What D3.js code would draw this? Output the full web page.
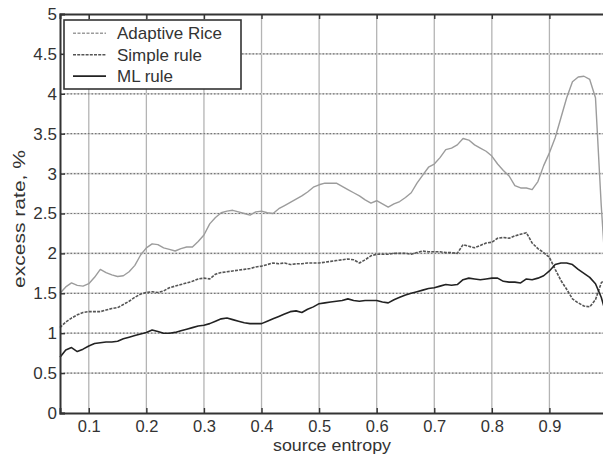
<!DOCTYPE html>
<html><head><meta charset="utf-8">
<script src="https://cdn.jsdelivr.net/npm/d3@7/dist/d3.min.js"></script>
<style>html,body{margin:0;padding:0;background:#fff;}svg{display:block;font-family:"Liberation Sans",Arial,sans-serif;}</style>
</head><body>
<svg id="c" width="603" height="455"></svg>
<script>
const entropy = [0.05,0.06,0.07,0.08,0.09,0.10,0.11,0.12,0.13,0.14,0.15,0.16,0.17,0.18,0.19,0.20,0.21,0.22,0.23,0.24,0.25,0.26,0.27,0.28,0.29,0.30,0.31,0.32,0.33,0.34,0.35,0.36,0.37,0.38,0.39,0.40,0.41,0.42,0.43,0.44,0.45,0.46,0.47,0.48,0.49,0.50,0.51,0.52,0.53,0.54,0.55,0.56,0.57,0.58,0.59,0.60,0.61,0.62,0.63,0.64,0.65,0.66,0.67,0.68,0.69,0.70,0.71,0.72,0.73,0.74,0.75,0.76,0.77,0.78,0.79,0.80,0.81,0.82,0.83,0.84,0.85,0.86,0.87,0.88,0.89,0.90,0.91,0.92,0.93,0.94,0.95,0.96,0.97,0.98,0.99,1.00];
const adaptiveRice = [1.50,1.58,1.63,1.60,1.59,1.62,1.70,1.80,1.76,1.73,1.71,1.72,1.77,1.85,1.98,2.07,2.12,2.11,2.07,2.05,2.03,2.06,2.08,2.08,2.15,2.23,2.37,2.45,2.51,2.53,2.54,2.52,2.50,2.48,2.52,2.53,2.51,2.50,2.56,2.60,2.64,2.68,2.72,2.77,2.83,2.86,2.88,2.88,2.88,2.84,2.80,2.76,2.72,2.67,2.63,2.66,2.62,2.58,2.62,2.65,2.70,2.76,2.88,2.98,3.08,3.12,3.20,3.30,3.32,3.36,3.44,3.42,3.36,3.32,3.28,3.22,3.12,3.04,2.97,2.85,2.82,2.82,2.80,2.90,3.10,3.26,3.45,3.70,3.95,4.15,4.21,4.22,4.18,3.95,2.60,1.50];
const simpleRule = [1.07,1.14,1.19,1.23,1.26,1.27,1.27,1.27,1.29,1.31,1.32,1.36,1.40,1.45,1.49,1.51,1.52,1.51,1.53,1.57,1.59,1.61,1.63,1.65,1.68,1.69,1.68,1.74,1.76,1.77,1.78,1.79,1.80,1.81,1.83,1.84,1.86,1.88,1.87,1.88,1.86,1.87,1.87,1.88,1.88,1.88,1.89,1.90,1.91,1.92,1.93,1.92,1.88,1.92,1.97,1.99,1.99,1.99,2.00,2.00,2.00,1.99,2.01,2.03,2.02,2.02,2.02,2.01,2.01,2.00,2.11,2.09,2.07,2.10,2.13,2.14,2.19,2.20,2.19,2.22,2.24,2.26,2.13,2.06,2.01,1.95,1.80,1.66,1.55,1.43,1.38,1.34,1.33,1.42,1.63,1.70];
const mlRule = [0.70,0.79,0.82,0.77,0.80,0.84,0.87,0.88,0.89,0.89,0.90,0.93,0.95,0.97,0.99,1.01,1.04,1.02,1.00,1.00,1.01,1.03,1.05,1.07,1.09,1.10,1.12,1.15,1.18,1.19,1.17,1.15,1.13,1.12,1.12,1.12,1.15,1.18,1.21,1.24,1.27,1.28,1.26,1.30,1.33,1.37,1.38,1.39,1.40,1.41,1.43,1.41,1.40,1.41,1.41,1.41,1.39,1.38,1.42,1.45,1.48,1.50,1.52,1.54,1.56,1.57,1.59,1.61,1.60,1.61,1.67,1.69,1.68,1.67,1.68,1.69,1.69,1.65,1.64,1.64,1.63,1.68,1.67,1.69,1.72,1.78,1.86,1.88,1.88,1.86,1.80,1.75,1.70,1.62,1.45,1.20];
const xTicks = [0.1,0.2,0.3,0.4,0.5,0.6,0.7,0.8,0.9,1.0];
const xTickLabels = ["0.1","0.2","0.3","0.4","0.5","0.6","0.7","0.8","0.9",""];
const yTicks = [0,0.5,1,1.5,2,2.5,3,3.5,4,4.5,5];
const seriesNames = ["Adaptive Rice","Simple rule","ML rule"];

const FS = 17;
const svg = d3.select("#c");
const x = d3.scaleLinear().domain([0.05,1]).range([60,607]);
const y = d3.scaleLinear().domain([0,5]).range([413,14]);

// grid
const g = svg.append("g");
g.selectAll(".vg").data(xTicks).join("line")
  .attr("x1",d=>x(d)).attr("x2",d=>x(d)).attr("y1",y(0)).attr("y2",y(5))
  .attr("stroke","#b4b4b4").attr("stroke-width",1.3);
g.selectAll(".hg").data(yTicks.slice(1,-1)).join("line")
  .attr("x1",x(0.05)).attr("x2",x(1)).attr("y1",d=>y(d)).attr("y2",d=>y(d))
  .attr("stroke","#d4d4d4").attr("stroke-width",1.6);
g.selectAll(".hg2").data(yTicks.slice(1,-1)).join("line")
  .attr("x1",x(0.05)).attr("x2",x(1)).attr("y1",d=>y(d)).attr("y2",d=>y(d))
  .attr("stroke","#777").attr("stroke-width",1.2).attr("stroke-dasharray","1.5,2");

// lines
const line = vals => d3.line().x((d,i)=>x(entropy[i])).y(d=>y(d))(vals);
const styles = [
  {data:adaptiveRice, stroke:"#9c9c9c", w:1.4, dash:null, ldash:"3,1.5"},
  {data:simpleRule, stroke:"#555", w:1.6, dash:"3,1.2", ldash:"3,1.2"},
  {data:mlRule, stroke:"#222", w:1.6, dash:null, ldash:null}
];
styles.forEach(s=>{
  const p = svg.append("path").attr("d",line(s.data)).attr("fill","none")
    .attr("stroke",s.stroke).attr("stroke-width",s.w).attr("stroke-linejoin","round");
  if(s.dash) p.attr("stroke-dasharray",s.dash);
});

// axes
const axB = svg.append("g").attr("transform",`translate(0,${y(0)})`)
  .call(d3.axisBottom(x).tickValues(xTicks).tickSize(-5).tickPadding(7).tickFormat((d,i)=>xTickLabels[i]));
const axT = svg.append("g").attr("transform",`translate(0,${y(5)})`)
  .call(d3.axisTop(x).tickValues(xTicks).tickSize(-5).tickFormat(""));
const axL = svg.append("g").attr("transform",`translate(${x(0.05)},0)`)
  .call(d3.axisLeft(y).tickValues(yTicks).tickSize(-5).tickPadding(3).tickFormat(d3.format("~g")));
[axB,axT,axL].forEach(a=>{
  a.select(".domain").attr("stroke","#333").attr("stroke-width",2);
  a.selectAll(".tick line").attr("stroke","#333").attr("stroke-width",1.4);
  a.selectAll("text").attr("fill","#333").attr("font-size",FS).attr("font-family","'Liberation Sans',Arial,sans-serif");
});
axB.selectAll("text").attr("font-size",16.5);

// axis labels
svg.append("text").attr("x",332).attr("y",451).attr("text-anchor","middle")
  .attr("font-size",16).attr("fill","#333").attr("textLength",118).attr("lengthAdjust","spacingAndGlyphs").text("source entropy");
svg.append("text").attr("transform","translate(25,219) rotate(-90)").attr("text-anchor","middle")
  .attr("font-size",16).attr("fill","#333").attr("textLength",138).attr("lengthAdjust","spacingAndGlyphs").text("excess rate, %");

// legend
const lg = svg.append("g");
lg.append("rect").attr("x",64).attr("y",20).attr("width",177).attr("height",69)
  .attr("fill","#fff").attr("stroke","#333").attr("stroke-width",1.6);
styles.forEach((s,i)=>{
  const yy = 33.3 + i*21.4;
  const l = lg.append("line").attr("x1",73).attr("x2",106).attr("y1",yy).attr("y2",yy)
    .attr("stroke",s.stroke).attr("stroke-width",s.w);
  if(s.ldash) l.attr("stroke-dasharray",s.ldash);
  lg.append("text").attr("x",117).attr("y",yy+6).attr("font-size",FS).attr("fill","#333").text(seriesNames[i]);
});
</script>
</body></html>
